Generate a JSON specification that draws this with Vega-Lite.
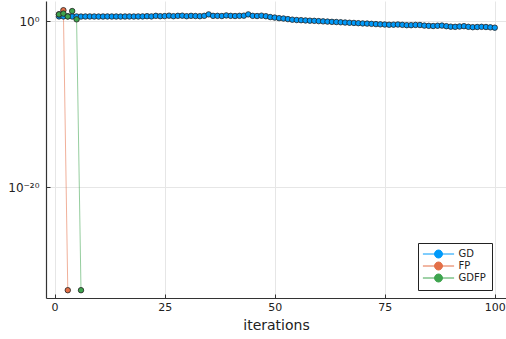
{
  "$schema": "https://vega.github.io/schema/vega-lite/v6.json",
  "width": 460,
  "height": 297,
  "autosize": {"type": "none"},
  "padding": {"left": 46, "top": 1, "right": 0, "bottom": 41},
  "background": "white",
  "config": {"view": {"stroke": null}, "font": "DejaVu Sans"},
  "data": {"values": [
    {"it":1,"loss":3.6,"method":"GD"},{"it":2,"loss":3.55,"method":"GD"},{"it":3,"loss":3.7,"method":"GD"},{"it":4,"loss":3.5,"method":"GD"},{"it":5,"loss":3.55,"method":"GD"},
    {"it":6,"loss":3.45,"method":"GD"},{"it":7,"loss":3.5,"method":"GD"},{"it":8,"loss":3.55,"method":"GD"},{"it":9,"loss":3.5,"method":"GD"},{"it":10,"loss":3.45,"method":"GD"},
    {"it":11,"loss":3.5,"method":"GD"},{"it":12,"loss":3.55,"method":"GD"},{"it":13,"loss":3.5,"method":"GD"},{"it":14,"loss":3.5,"method":"GD"},{"it":15,"loss":3.45,"method":"GD"},
    {"it":16,"loss":3.5,"method":"GD"},{"it":17,"loss":3.55,"method":"GD"},{"it":18,"loss":3.5,"method":"GD"},{"it":19,"loss":3.55,"method":"GD"},{"it":20,"loss":3.6,"method":"GD"},
    {"it":21,"loss":3.8,"method":"GD"},{"it":22,"loss":3.6,"method":"GD"},{"it":23,"loss":4.2,"method":"GD"},{"it":24,"loss":3.8,"method":"GD"},{"it":25,"loss":3.9,"method":"GD"},
    {"it":26,"loss":4.4,"method":"GD"},{"it":27,"loss":3.8,"method":"GD"},{"it":28,"loss":4.2,"method":"GD"},{"it":29,"loss":4.4,"method":"GD"},{"it":30,"loss":3.8,"method":"GD"},
    {"it":31,"loss":4.2,"method":"GD"},{"it":32,"loss":4.0,"method":"GD"},{"it":33,"loss":3.8,"method":"GD"},{"it":34,"loss":4.2,"method":"GD"},{"it":35,"loss":6.3,"method":"GD"},
    {"it":36,"loss":4.2,"method":"GD"},{"it":37,"loss":4.2,"method":"GD"},{"it":38,"loss":4.0,"method":"GD"},{"it":39,"loss":4.7,"method":"GD"},{"it":40,"loss":4.2,"method":"GD"},
    {"it":41,"loss":4.0,"method":"GD"},{"it":42,"loss":4.2,"method":"GD"},{"it":43,"loss":4.4,"method":"GD"},{"it":44,"loss":6.3,"method":"GD"},{"it":45,"loss":4.2,"method":"GD"},
    {"it":46,"loss":4.0,"method":"GD"},{"it":47,"loss":4.4,"method":"GD"},{"it":48,"loss":3.8,"method":"GD"},{"it":49,"loss":3.0,"method":"GD"},{"it":50,"loss":2.6,"method":"GD"},
    {"it":51,"loss":2.2,"method":"GD"},{"it":52,"loss":2.0,"method":"GD"},{"it":53,"loss":1.7,"method":"GD"},{"it":54,"loss":1.45,"method":"GD"},{"it":55,"loss":1.32,"method":"GD"},
    {"it":56,"loss":1.26,"method":"GD"},{"it":57,"loss":1.17,"method":"GD"},{"it":58,"loss":1.1,"method":"GD"},{"it":59,"loss":1.05,"method":"GD"},{"it":60,"loss":0.977,"method":"GD"},
    {"it":61,"loss":0.912,"method":"GD"},{"it":62,"loss":0.851,"method":"GD"},{"it":63,"loss":0.794,"method":"GD"},{"it":64,"loss":0.759,"method":"GD"},{"it":65,"loss":0.708,"method":"GD"},
    {"it":66,"loss":0.661,"method":"GD"},{"it":67,"loss":0.617,"method":"GD"},{"it":68,"loss":0.589,"method":"GD"},{"it":69,"loss":0.55,"method":"GD"},{"it":70,"loss":0.513,"method":"GD"},
    {"it":71,"loss":0.49,"method":"GD"},{"it":72,"loss":0.457,"method":"GD"},{"it":73,"loss":0.427,"method":"GD"},{"it":74,"loss":0.398,"method":"GD"},{"it":75,"loss":0.38,"method":"GD"},
    {"it":76,"loss":0.355,"method":"GD"},{"it":77,"loss":0.363,"method":"GD"},{"it":78,"loss":0.38,"method":"GD"},{"it":79,"loss":0.347,"method":"GD"},{"it":80,"loss":0.316,"method":"GD"},
    {"it":81,"loss":0.316,"method":"GD"},{"it":82,"loss":0.339,"method":"GD"},{"it":83,"loss":0.331,"method":"GD"},{"it":84,"loss":0.282,"method":"GD"},{"it":85,"loss":0.263,"method":"GD"},
    {"it":86,"loss":0.251,"method":"GD"},{"it":87,"loss":0.269,"method":"GD"},{"it":88,"loss":0.282,"method":"GD"},{"it":89,"loss":0.24,"method":"GD"},{"it":90,"loss":0.209,"method":"GD"},
    {"it":91,"loss":0.2,"method":"GD"},{"it":92,"loss":0.219,"method":"GD"},{"it":93,"loss":0.24,"method":"GD"},{"it":94,"loss":0.2,"method":"GD"},{"it":95,"loss":0.182,"method":"GD"},
    {"it":96,"loss":0.191,"method":"GD"},{"it":97,"loss":0.2,"method":"GD"},{"it":98,"loss":0.191,"method":"GD"},{"it":99,"loss":0.174,"method":"GD"},{"it":100,"loss":0.158,"method":"GD"},
    {"it":1,"loss":6.3,"method":"FP"},{"it":2,"loss":20,"method":"FP"},{"it":3,"loss":4e-33,"method":"FP"},
    {"it":1,"loss":6.3,"method":"GDFP"},{"it":2,"loss":7.9,"method":"GDFP"},{"it":3,"loss":3.5,"method":"GDFP"},{"it":4,"loss":15.8,"method":"GDFP"},{"it":5,"loss":1.6,"method":"GDFP"},{"it":6,"loss":4e-33,"method":"GDFP"}
  ]},
  "encoding": {
    "x": {"field": "it", "type": "quantitative",
      "scale": {"domain": [-1.95, 102.55], "nice": false, "zero": false},
      "axis": {"values": [0, 25, 50, 75, 100], "format": "d", "grid": true, "gridColor": "#e6e6e6", "gridWidth": 1,
        "domainColor": "#333", "domainWidth": 1.2, "tickColor": "#333", "tickSize": -4, "tickWidth": 1,
        "labelFontSize": 11, "labelColor": "#222", "labelPadding": 7, "labelFlush": false,
        "title": "iterations", "titleFontSize": 14, "titleFontWeight": "normal", "titleColor": "#222", "titlePadding": 6}},
    "y": {"field": "loss", "type": "quantitative",
      "scale": {"type": "log", "domain": [4.6e-34, 257], "nice": false},
      "axis": {"values": [1e-20, 1], "labelExpr": "datum.value >= 0.5 ? '10⁰' : '10⁻²⁰'", "grid": true, "gridColor": "#e6e6e6", "gridWidth": 1,
        "domainColor": "#333", "domainWidth": 1.2, "tickColor": "#333", "tickSize": -4, "tickWidth": 1,
        "labelFontSize": 12, "labelColor": "#222", "labelPadding": 11, "title": null}},
    "color": {"field": "method", "type": "nominal", "sort": ["GD", "FP", "GDFP"],
      "scale": {"domain": ["GD", "FP", "GDFP"], "range": ["#009AFA", "#E36F47", "#3EA44E"]},
      "legend": {"orient": "none", "legendX": 372, "legendY": 242, "title": null,
        "symbolType": "M-3.9,0L-1,0M1,0L3.9,0M-1,0A1,1,0,1,1,1,0A1,1,0,1,1,-1,0Z",
        "symbolSize": 64, "symbolStrokeWidth": 1, "symbolOpacity": 1, "symbolOffset": 9.5, "labelOffset": 15,
        "labelFontSize": 10, "labelColor": "#222", "padding": 6, "strokeColor": "#222", "fillColor": "white", "rowPadding": 0, "cornerRadius": 0}}
  },
  "layer": [
    {"mark": {"type": "line", "strokeWidth": 1, "opacity": 0.55}},
    {"mark": {"type": "point", "shape": "circle", "filled": true, "size": 30, "stroke": "#222", "strokeWidth": 0.8, "opacity": 1}}
  ]
}
